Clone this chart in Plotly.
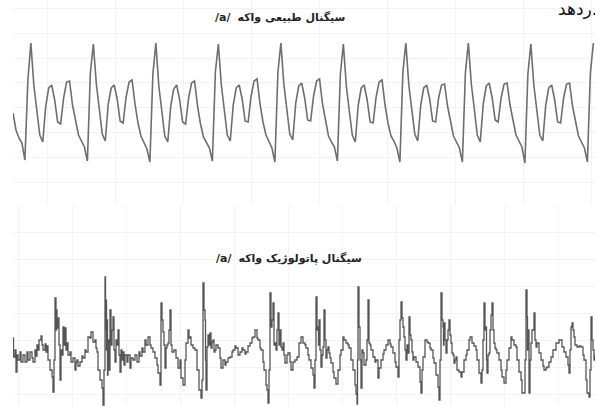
import plotly.graph_objects as go

# ---------------- data ----------------
# Normal vowel /a/ : uniformly sampled amplitude (arbitrary units)
FS_TOP_KHZ = 3.36          # samples per ms
T0_TOP_MS = 1.3            # time of first sample (ms)
normal_amp = [
    -13, -30, -38, -43, -60, 20,
    57, 15, -10, -35, -42, -6, 12, 15, 0, -22, -24, 2, 18, 19, -5, -22, -35, -41, -47, -61, 27,
    56, 16, -9, -34, -41, -4, 12, 15, 1, -21, -23, 3, 18, 20, -4, -23, -36, -42, -49, -62, 26,
    57, 14, -11, -36, -42, -6, 11, 15, 0, -22, -24, 2, 17, 19, -6, -24, -37, -43, -48, -61, 28,
    56, 15, -10, -35, -41, -5, 12, 15, 1, -21, -22, 4, 19, 21, -4, -22, -35, -42, -48, -62, 27,
    57, 16, -9, -34, -40, -3, 14, 17, 2, -20, -21, 4, 19, 21, -4, -22, -36, -42, -47, -61, 26,
    56, 14, -11, -35, -42, -5, 12, 15, 0, -22, -23, 3, 18, 20, -5, -23, -36, -41, -48, -62, 28,
    57, 15, -10, -34, -41, -5, 12, 15, 1, -21, -22, 2, 15, 16, -6, -23, -36, -42, -48, -62, 27,
    57, 16, -9, -35, -42, -4, 14, 17, 2, -20, -22, 2, 16, 17, -5, -22, -35, -41, -47, -63, 26,
    56, 15, -10, -35, -41, -5, 12, 15, 0, -22, -23, 2, 16, 17, -6, -23, -36, -42, -48, -62, 27,
    57,
]
normal_time = [T0_TOP_MS + i / FS_TOP_KHZ for i in range(len(normal_amp))]

# Pathological vowel /a/ : time (ms) and amplitude (arbitrary units)
patho_time = [
    1.3, 1.35, 1.5, 1.6, 1.7, 1.8, 2.0, 2.1, 2.3, 2.5, 2.7, 2.8, 3.0, 3.2, 3.3, 3.5, 3.6, 3.7, 3.8, 3.9,
    4.1, 4.2, 4.3, 4.5, 4.6, 4.7, 4.8, 5.0, 5.2, 5.3, 5.4, 5.5, 5.6, 5.65, 5.7, 5.8, 5.9, 6.0, 6.1, 6.2,
    6.3, 6.4, 6.5, 6.6, 6.7, 6.8, 7.0, 7.1, 7.3, 7.5, 7.6, 7.7, 7.8, 8.0, 8.2, 8.3, 8.5, 8.6, 8.8, 9.0,
    9.1, 9.3, 9.5, 9.6, 9.7, 9.8, 10.0, 10.2, 10.3, 10.4, 10.5, 10.55, 10.6, 10.65, 10.7, 10.75, 10.8, 10.9, 11.0, 11.1,
    11.2, 11.3, 11.4, 11.5, 11.6, 11.7, 11.8, 11.9, 12.0, 12.1, 12.2, 12.3, 12.4, 12.5, 12.7, 12.8, 13.0, 13.1, 13.3, 13.5,
    13.7, 13.9, 14.0, 14.2, 14.3, 14.5, 14.6, 14.8, 15.0, 15.1, 15.3, 15.5, 15.7, 15.8, 16.0, 16.1, 16.2, 16.3, 16.4, 16.5,
    16.6, 16.7, 16.8, 16.9, 17.0, 17.1, 17.2, 17.4, 17.6, 17.8, 18.0, 18.1, 18.3, 18.5, 18.6, 18.8, 18.9, 19.0, 19.1, 19.3,
    19.5, 19.7, 19.9, 20.1, 20.2, 20.3, 20.4, 20.5, 20.55, 20.6, 20.7, 20.8, 20.9, 21.0, 21.1, 21.2, 21.3, 21.4, 21.5, 21.6,
    21.8, 22.0, 22.1, 22.3, 22.5, 22.6, 22.8, 23.0, 23.2, 23.3, 23.5, 23.6, 23.8, 24.0, 24.2, 24.3, 24.5, 24.6, 24.8, 25.0,
    25.2, 25.3, 25.5, 25.7, 25.8, 26.0, 26.1, 26.3, 26.4, 26.6, 26.7, 26.8, 26.9, 27.0, 27.1, 27.2, 27.3, 27.4, 27.5, 27.6,
    27.7, 27.8, 27.9, 28.0, 28.1, 28.2, 28.3, 28.4, 28.5, 28.7, 28.8, 29.0, 29.1, 29.3, 29.5, 29.7, 29.9, 30.1, 30.3, 30.5,
    30.6, 30.8, 30.9, 31.1, 31.3, 31.4, 31.5, 31.6, 31.7, 31.8, 31.85, 31.9, 32.0, 32.1, 32.2, 32.3, 32.4, 32.5, 32.6, 32.7,
    32.8, 32.9, 33.0, 33.1, 33.3, 33.4, 33.6, 33.8, 34.0, 34.1, 34.3, 34.4, 34.6, 34.8, 34.9, 35.1, 35.3, 35.5, 35.6, 35.7,
    35.75, 35.8, 35.9, 36.0, 36.1, 36.2, 36.3, 36.4, 36.6, 36.7, 36.8, 36.9, 37.0, 37.1, 37.3, 37.5, 37.6, 37.8, 37.9, 38.1,
    38.3, 38.4, 38.6, 38.8, 39.0, 39.1, 39.3, 39.5, 39.6, 39.8, 39.9, 40.0, 40.1, 40.2, 40.3, 40.4, 40.5, 40.6, 40.7, 40.8,
    40.9, 41.0, 41.1, 41.2, 41.3, 41.4, 41.6, 41.8, 42.0, 42.1, 42.2, 42.3, 42.5, 42.7, 42.8, 43.0, 43.1, 43.3, 43.4, 43.6,
    43.8, 43.9, 44.0, 44.1, 44.2, 44.3, 44.35, 44.4, 44.5, 44.6, 44.7, 44.8, 44.9, 45.0, 45.1, 45.2, 45.3, 45.4, 45.5, 45.6,
    45.7, 45.9, 46.1, 46.2, 46.4, 46.6, 46.7, 46.9, 47.0, 47.2, 47.4, 47.6, 47.7, 47.9, 48.1, 48.2, 48.3, 48.4, 48.5, 48.6,
    48.65, 48.7, 48.8, 48.9, 49.0, 49.1, 49.2, 49.3, 49.4, 49.5, 49.6, 49.7, 49.9, 50.1, 50.2, 50.4, 50.6, 50.7, 50.9, 51.1,
    51.2, 51.4, 51.6, 51.7, 51.9, 52.1, 52.2, 52.4, 52.5, 52.6, 52.7, 52.75, 52.8, 52.9, 53.0, 53.1, 53.2, 53.4, 53.5, 53.6,
    53.7, 53.9, 54.1, 54.3, 54.4, 54.6, 54.7, 54.9, 55.1, 55.3, 55.6, 55.9, 56.2, 56.4, 56.6, 56.8, 56.9, 57.0, 57.1, 57.2,
    57.3, 57.4, 57.5, 57.7, 57.9, 58.1, 58.3, 58.4, 58.6, 58.7, 58.9, 59.0, 59.1, 59.2, 59.3, 59.4, 59.5,
]
patho_amp = [
    -3, -22, -15, -37, -20, -25, -17, -27, -20, -27, -17, -25, -17, -23, -27, -15, -21, -10, -15, -5,
    -1, -10, -15, -9, -17, -11, -25, -35, -42, -57, -25, 37, 5, 25, 7, 17, -10, -45, -15, -20,
    8, -10, 7, -15, -8, -20, -17, -27, -23, -35, -27, -25, -31, -27, -21, -23, -15, -17, -2, -3,
    3, -7, -5, -13, -17, -35, -45, -53, -70, -35, 58, 5, 35, -15, 15, -40, -5, -35, 25, -10,
    5, 18, -15, -27, -5, -10, 5, -20, -37, -15, -25, -17, -30, -20, -27, -20, -33, -23, -25, -20,
    -27, -17, -21, -13, -17, -5, -10, -2, -10, -13, -17, -23, -30, -38, -50, 32, 15, 3, -10, -33,
    -13, -10, -8, 5, 25, -10, -17, -15, -23, -33, -25, -43, -50, -25, -8, 5, -3, -2, -10, -13,
    -15, -35, -55, -63, -45, 52, 25, 15, -25, -55, -12, 0, -10, 2, -13, -7, -5, -17, -15, -10,
    -13, -23, -33, -25, -30, -27, -23, -22, -17, -15, -11, -13, -20, -17, -13, -15, -19, -17, -11, -8,
    -3, -2, 5, -3, -5, -13, -15, -27, -35, -50, -55, -68, -35, 42, 8, 15, 32, -10, -8, -15,
    5, 22, -10, 5, -12, -15, -8, -20, -28, -20, -18, -27, -35, -27, -25, -22, -8, -2, -8, -10,
    -13, -20, -25, -33, -40, -53, -25, 38, 5, 8, -10, 15, -15, -32, -20, -12, 25, -5, -23, -15,
    -12, -18, -23, -28, -37, -43, -49, -35, -20, -15, -2, -5, -8, -10, -13, -25, -35, -50, -59, -69,
    -25, 48, 8, -25, -53, -15, -18, -30, -25, -5, 35, -8, -10, -15, -22, -27, -25, -43, -33, -25,
    -19, -15, -10, -5, -9, -12, -18, -27, -32, -42, -5, 15, 33, 17, 8, -2, -15, -25, -10, -18,
    18, 0, -5, -17, -25, -22, -27, -32, -47, -58, -35, -22, -5, -7, -8, -13, -15, -23, -28, -40,
    -52, -65, -25, 42, 15, 8, -10, 12, -5, -18, -5, 5, 15, 0, -8, -18, -20, -28, -25, -22,
    -35, -37, -42, -37, -25, -20, -15, -5, -2, -8, -11, -15, -25, -38, -48, -35, -5, 32, 5, 8,
    -25, -38, -20, -18, 5, 20, 32, 5, -8, -13, -15, -18, -25, -35, -42, -48, -35, -25, -13, -2,
    -5, -10, -12, -25, -37, -45, -58, -58, -25, 45, 18, -15, 5, -58, -25, -8, 5, 22, -5, -12,
    -8, -18, -25, -31, -35, -33, -32, -27, -22, -15, -8, -5, -12, -17, -22, -30, -38, -15, 8, 12,
    5, -2, -10, -12, -11, -12, -20, -25, -45, -58, -62, -35, 18, -5, -15, -25, -20,
]

title_top = "<b>/a/</b>  <b>سیگنال طبیعی واکه</b>"
title_bottom = "<b>/a/</b>  <b>سیگنال پاتولوژیک واکه</b>"
fragment_text = "ردهد."

# ---------------- figure ----------------
W, H = 595, 406
fig = go.Figure()
fig.add_trace(go.Scatter(x=normal_time, y=normal_amp, mode="lines",
                         line=dict(color="#6e6e6e", width=1.6), xaxis="x", yaxis="y",
                         hoverinfo="skip", showlegend=False))
fig.add_trace(go.Scatter(x=patho_time, y=patho_amp, mode="lines",
                         line=dict(color="#555555", width=1.3, shape="hv"), xaxis="x2", yaxis="y2",
                         hoverinfo="skip", showlegend=False))

grid_col = "#f3f3f3"
common_x = dict(domain=[13 / W, 1], range=[1.3, 59.5], showticklabels=False, ticks="",
                zeroline=False, showline=False, showgrid=True, gridcolor=grid_col, gridwidth=1)
fig.update_layout(
    width=W, height=H,
    margin=dict(l=0, r=0, t=0, b=0),
    paper_bgcolor="white", plot_bgcolor="white",
    xaxis=dict(**common_x, anchor="y", tick0=18.3, dtick=6.8),
    xaxis2=dict(**common_x, anchor="y2", tick0=18.0, dtick=5.4),
    yaxis=dict(domain=[1 - 205 / H, 1], range=[-105, 100], showticklabels=False, ticks="",
               zeroline=False, showgrid=True, gridcolor=grid_col, tick0=-82, dtick=24.8),
    yaxis2=dict(domain=[0, 1 - 205 / H], range=[-71, 130], showticklabels=False, ticks="",
                zeroline=False, showgrid=True, gridcolor=grid_col, tick0=130, dtick=27),
    annotations=[
        dict(text=title_top, xref="paper", yref="paper", x=280 / W, y=1 - 17 / H,
             xanchor="center", yanchor="middle", showarrow=False,
             font=dict(family="DejaVu Sans", size=11, color="#222222")),
        dict(text=title_bottom, xref="paper", yref="paper", x=289 / W, y=1 - 258 / H,
             xanchor="center", yanchor="middle", showarrow=False,
             font=dict(family="DejaVu Sans", size=11, color="#222222")),
        dict(text=fragment_text, xref="paper", yref="paper", x=599 / W, y=1 - 9 / H,
             xanchor="right", yanchor="middle", showarrow=False,
             font=dict(family="DejaVu Sans", size=17, color="#111111")),
    ],
)
fig.write_html("out.html", config={"displayModeBar": False},
               post_script="document.body.style.margin='0px';document.body.style.overflow='hidden';")
